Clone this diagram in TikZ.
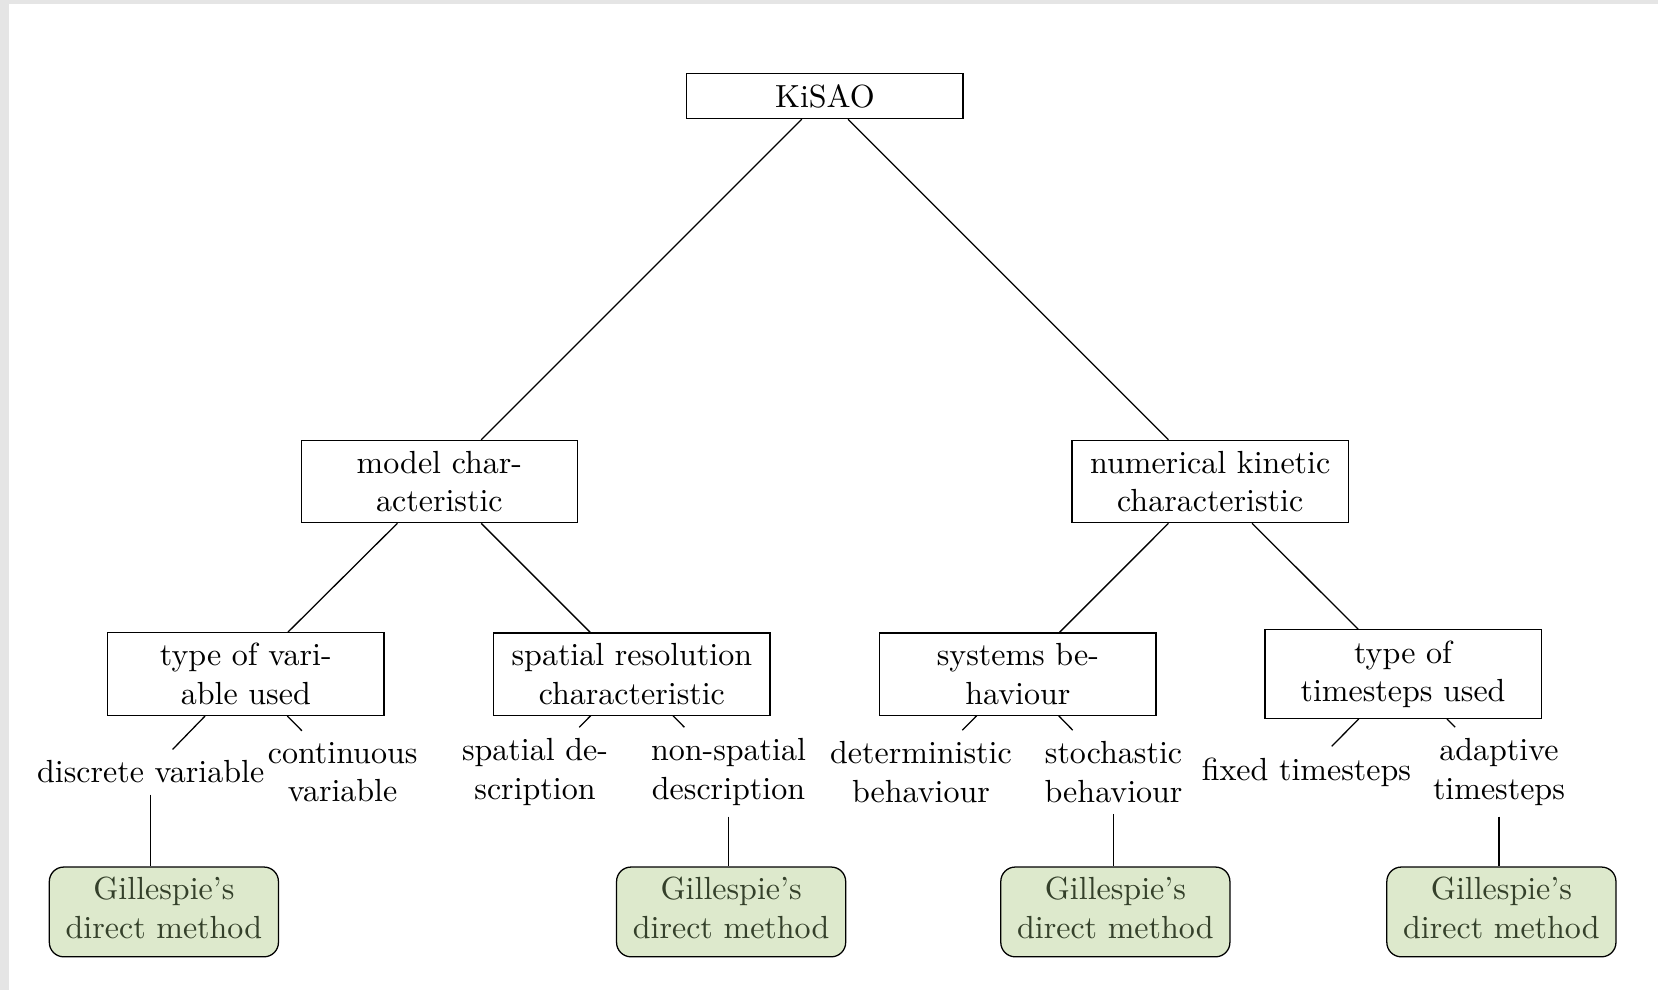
\documentclass[tikz,border=0pt]{standalone}
\definecolor{pagegray}{RGB}{229,229,229}
\definecolor{methodfill}{RGB}{221,233,204}
\definecolor{methodtext}{RGB}{52,64,42}
\begin{document}
\begin{tikzpicture}[
    cat/.style={draw, text width=2.8cm, align=center},
    leaf/.style={align=center},
    method/.style={draw, rounded corners=4.5pt, fill=methodfill, text=methodtext,
      text width=2.2cm, align=center, inner xsep=4.5pt, inner ysep=3.2pt}]
  \fill[pagegray] (0,0) rectangle (18.21,10.873);
  \fill[white] (0.099,0) rectangle (18.21,10.829);
  % tree of categories
  \node[cat] (kisao) at (9.06,9.817) {KiSAO};
  \node[cat] (model) at (4.826,5.584) {model char-\\acteristic};
  \node[cat] (numeric) at (13.292,5.584) {numerical kinetic\\characteristic};
  \node[cat] (vartype) at (2.70,3.47) {type of vari-\\able used};
  \node[cat] (spatial) at (6.94,3.47) {spatial resolution\\characteristic};
  \node[cat] (systems) at (11.18,3.47) {systems be-\\haviour};
  \node[cat] (steptype) at (15.41,3.47) {type of\\timesteps used};
  % leaves
  \node[leaf] (discrete) at (1.655,2.394) {discrete variable};
  \node[leaf] (continuous) at (3.763,2.394) {continuous\\variable};
  \node[leaf] (spdesc) at (5.876,2.394) {spatial de-\\scription};
  \node[leaf] (nonspdesc) at (8.001,2.394) {non-spatial\\description};
  \node[leaf] (determ) at (10.115,2.394) {deterministic\\behaviour};
  \node[leaf] (stoch) at (12.23,2.394) {stochastic\\behaviour};
  \node[leaf] (fixed) at (14.348,2.394) {fixed timesteps};
  \node[leaf] (adaptive) at (16.463,2.394) {adaptive\\timesteps};
  % methods
  \foreach \n/\x in {gill1/1.80, gill2/8.03, gill3/12.25, gill4/16.49}
    \node[method] (\n) at (\x,0.857)
      {Gillespie's\\direct method\rule[-2.6pt]{0pt}{0pt}};
  \foreach \a/\b in {kisao/model, kisao/numeric, model/vartype, model/spatial,
      numeric/systems, numeric/steptype, vartype/discrete, vartype/continuous,
      spatial/spdesc, spatial/nonspdesc, systems/determ, systems/stoch,
      steptype/fixed, steptype/adaptive}
    \draw (\a) -- (\b);
  \foreach \a/\b in {discrete/gill1, nonspdesc/gill2, stoch/gill3, adaptive/gill4}
    \draw (\a) -- (\a |- \b.north);
\end{tikzpicture}
\end{document}
